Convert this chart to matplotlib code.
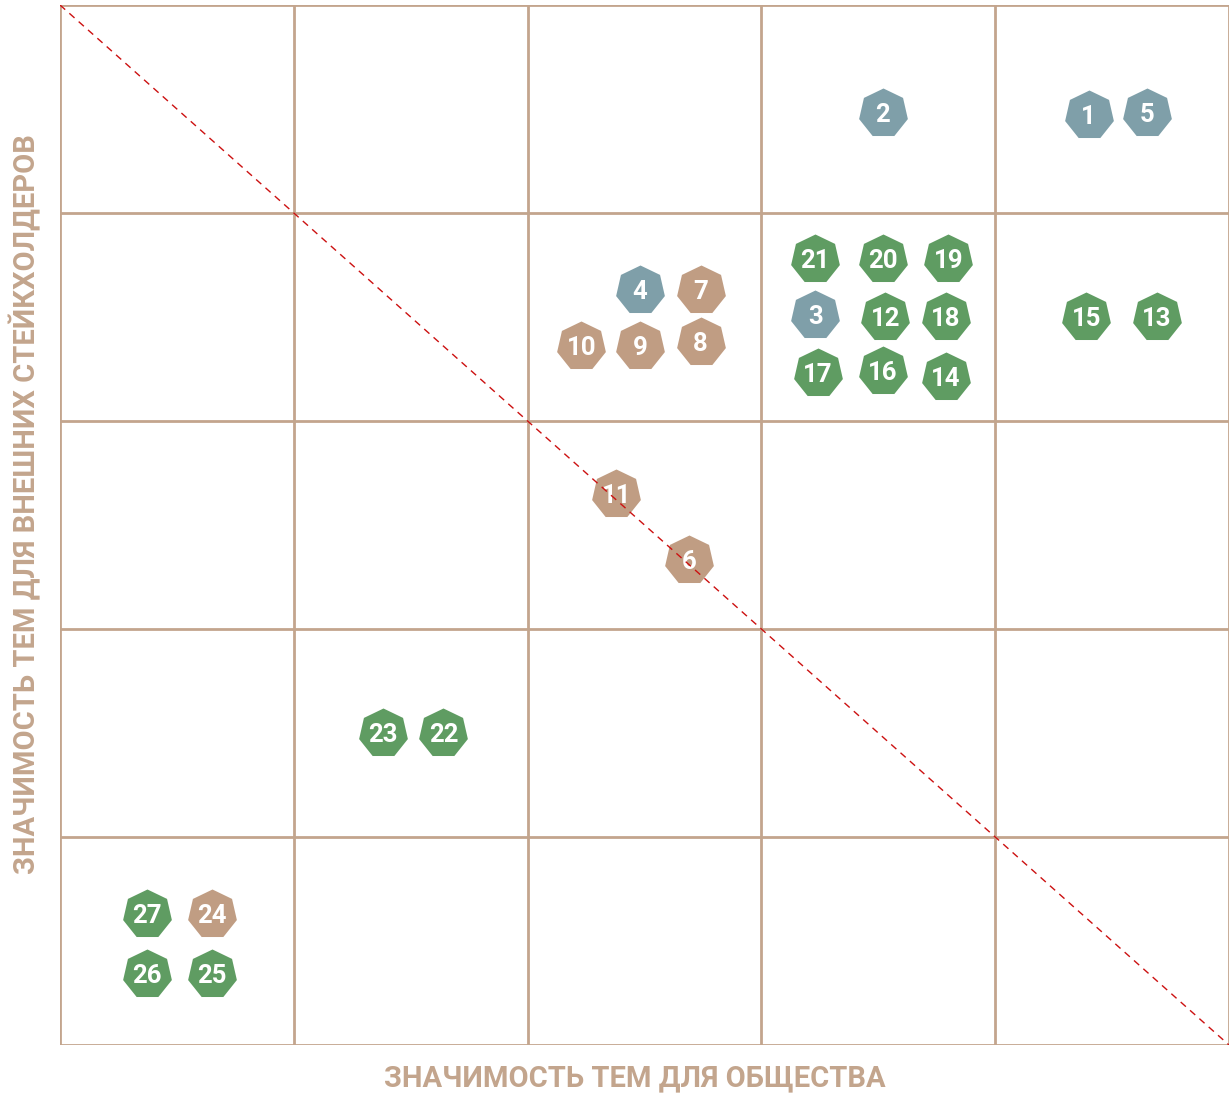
import matplotlib.pyplot as plt
import numpy as np

# topic numbers and their positions (society importance, stakeholder importance)
labels = ['1', '5', '2', '21', '20', '19', '3', '12', '18', '17', '16', '14', '15', '13',
          '4', '7', '10', '9', '8', '11', '6', '23', '22', '27', '24', '26', '25']
x_vals = [4.40, 4.65, 3.52, 3.23, 3.52, 3.80, 3.23, 3.53, 3.79, 3.24, 3.52, 3.79, 4.39, 4.69,
          2.48, 2.74, 2.23, 2.48, 2.74, 2.38, 2.69, 1.38, 1.64, 0.37, 0.65, 0.37, 0.65]
y_vals = [4.47, 4.48, 4.48, 3.78, 3.78, 3.78, 3.51, 3.50, 3.50, 3.23, 3.24, 3.21, 3.50, 3.50,
          3.63, 3.63, 3.36, 3.36, 3.38, 2.65, 2.33, 1.50, 1.50, 0.63, 0.63, 0.34, 0.34]
groups = ['b', 'b', 'b', 'g', 'g', 'g', 'b', 'g', 'g', 'g', 'g', 'g', 'g', 'g',
          'b', 't', 't', 't', 't', 't', 't', 'g', 'g', 'g', 't', 'g', 'g']

colors = {'b': '#7f9fa9', 't': '#c09d83', 'g': '#5f9c62'}
tan = '#c3a58d'

plt.rcParams['font.family'] = ['Roboto', 'DejaVu Sans']

fig = plt.figure(figsize=(12.3, 10.93), dpi=100)
ax = fig.add_axes([60 / 1230, 48 / 1093, 1169 / 1230, 1040 / 1093])
ax.set_xlim(0, 5)
ax.set_ylim(0, 5)

for k in range(6):
    ax.axvline(k, color=tan, lw=2, zorder=1)
    ax.axhline(k, color=tan, lw=2, zorder=1)
for s in ax.spines.values():
    s.set_visible(False)
ax.set_xticks([])
ax.set_yticks([])

for lab, x, y, g in zip(labels, x_vals, y_vals, groups):
    ax.plot(x, y, marker=(7, 0, 0), ms=36, color=colors[g], mec='none', zorder=3, clip_on=False)
    ax.text(x, y - 0.01, lab, color='white', fontsize=18.5, fontweight='bold',
            ha='center', va='center', zorder=4)

ax.plot([0, 5], [5, 0], color='#cc1111', lw=1, ls=(0, (5, 4)), zorder=5)

fig.text(635 / 1230, 1 - 1078 / 1093, 'ЗНАЧИМОСТЬ ТЕМ ДЛЯ ОБЩЕСТВА', color=tan,
         fontsize=21, fontweight='bold', ha='center', va='center')
fig.text(25 / 1230, 1 - 504 / 1093, 'ЗНАЧИМОСТЬ ТЕМ ДЛЯ ВНЕШНИХ СТЕЙКХОЛДЕРОВ', color=tan,
         fontsize=21, fontweight='bold', ha='center', va='center', rotation=90)

fig.savefig('out.png', dpi=100)
